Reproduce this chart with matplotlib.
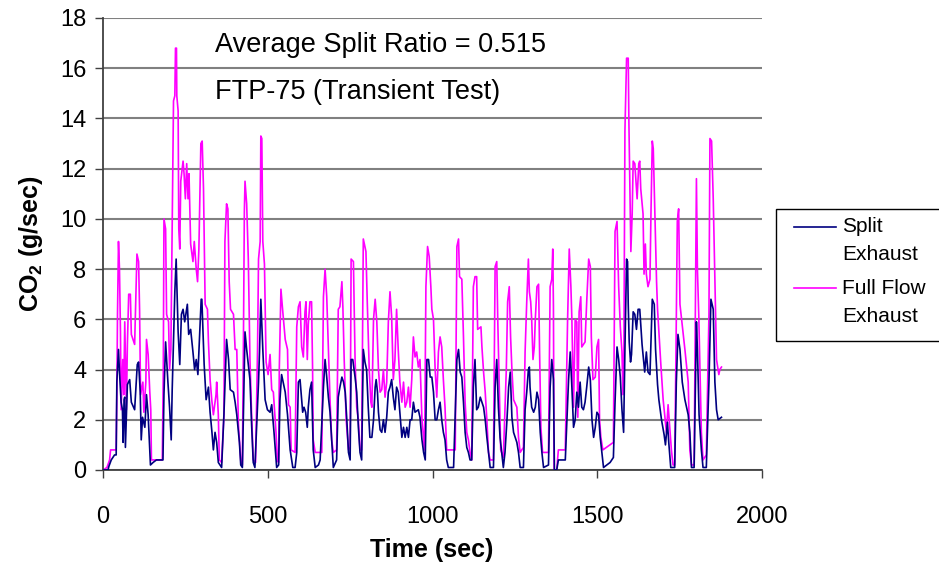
import matplotlib
matplotlib.use("Agg")
import matplotlib.pyplot as plt
from matplotlib.lines import Line2D
from matplotlib.patches import Rectangle

plt.rcParams['font.family'] = ['Liberation Sans', 'DejaVu Sans']
plt.rcParams['mathtext.fontset'] = 'custom'
plt.rcParams['mathtext.rm'] = 'Liberation Sans'
plt.rcParams['mathtext.bf'] = 'Liberation Sans:bold'

# CO2 mass rate over the FTP-75 cycle, split exhaust sampling
split_t = [0, 15, 18, 25, 35, 40, 42, 47, 50, 55, 59, 61, 64, 66, 68, 74, 81, 86, 96, 104,
           108, 113, 116, 120, 127, 132, 137, 144, 152, 162, 182, 185, 190, 197, 202, 207, 210, 218, 222, 228,
           233, 238, 243, 248, 256, 260, 266, 273, 278, 283, 288, 298, 300, 307, 313, 320, 325, 330, 335, 340,
           345, 350, 360, 367, 375, 381, 386, 396, 401, 406, 414, 418, 423, 428, 431, 436, 446, 451, 456, 461,
           472, 475, 479, 485, 492, 499, 507, 512, 519, 527, 533, 537, 542, 553, 560, 568, 576, 583, 588, 593,
           598, 603, 606, 610, 615, 620, 623, 628, 633, 638, 644, 654, 659, 669, 674, 679, 684, 689, 694, 699,
           709, 714, 719, 725, 730, 735, 740, 745, 750, 753, 758, 765, 770, 775, 780, 785, 790, 795, 800, 805,
           810, 816, 821, 826, 829, 833, 836, 841, 846, 851, 856, 861, 866, 871, 876, 881, 886, 891, 896, 901,
           907, 912, 917, 922, 927, 932, 937, 942, 947, 957, 962, 968, 973, 978, 983, 988, 993, 998, 1003, 1008,
           1013, 1018, 1023, 1028, 1033, 1038, 1043, 1048, 1064, 1074, 1079, 1084, 1089, 1094, 1099, 1104, 1109, 1114, 1119, 1124,
           1129, 1134, 1139, 1145, 1155, 1160, 1165, 1170, 1175, 1185, 1190, 1195, 1200, 1205, 1210, 1215, 1220, 1226, 1231, 1236,
           1241, 1246, 1251, 1256, 1261, 1266, 1276, 1281, 1286, 1291, 1294, 1296, 1301, 1307, 1312, 1317, 1322, 1327, 1332, 1337,
           1352, 1357, 1362, 1367, 1370, 1377, 1382, 1403, 1413, 1418, 1423, 1428, 1433, 1438, 1443, 1448, 1453, 1458, 1463, 1468,
           1474, 1479, 1484, 1489, 1494, 1499, 1504, 1509, 1514, 1519, 1539, 1549, 1554, 1560, 1565, 1570, 1575, 1580, 1584, 1589,
           1592, 1594, 1597, 1601, 1604, 1609, 1614, 1619, 1624, 1629, 1636, 1644, 1649, 1654, 1660, 1667, 1673, 1677, 1683, 1687,
           1695, 1703, 1707, 1713, 1717, 1723, 1735, 1740, 1745, 1751, 1758, 1766, 1776, 1781, 1786, 1794, 1801, 1804, 1809, 1816,
           1821, 1831, 1839, 1845, 1852, 1857, 1862, 1867, 1877]
split_co2 = [0.0, 0.0, 0.15, 0.4, 0.6, 0.6, 3.5, 4.8, 3.9, 2.7, 2.4, 1.1, 2.8, 2.9, 0.9, 3.4, 3.6, 2.7, 2.4, 4.2,
             4.3, 3.1, 1.2, 2.1, 1.7, 3.0, 2.2, 0.2, 0.3, 0.4, 0.4, 3.0, 5.1, 3.5, 2.5, 1.2, 3.2, 7.1, 8.4, 5.5,
             4.2, 6.2, 6.4, 5.9, 6.6, 5.4, 5.6, 4.7, 4.0, 4.4, 3.8, 6.8, 6.8, 4.2, 2.8, 3.3, 2.3, 1.6, 0.8, 1.5,
             1.1, 0.3, 0.1, 2.2, 5.2, 4.4, 3.2, 3.1, 2.7, 2.2, 1.1, 0.2, 0.1, 3.5, 5.5, 4.8, 3.6, 1.8, 0.3, 0.1,
             3.5, 4.7, 6.8, 4.8, 2.8, 2.4, 2.3, 2.6, 1.5, 0.1, 0.2, 2.8, 3.8, 3.1, 2.2, 0.8, 0.1, 0.1, 0.7, 3.5,
             3.6, 2.8, 2.3, 2.5, 2.3, 1.7, 2.5, 3.2, 3.5, 0.8, 0.1, 0.2, 0.4, 3.3, 4.4, 3.7, 2.9, 2.3, 1.2, 0.1,
             0.4, 2.9, 3.3, 3.7, 3.5, 3.1, 2.0, 0.7, 0.4, 4.4, 4.4, 3.7, 3.1, 1.7, 0.7, 0.4, 4.8, 4.3, 4.0, 2.5,
             1.3, 1.3, 2.0, 3.3, 3.6, 3.1, 2.3, 1.6, 1.5, 2.0, 1.5, 2.1, 3.1, 3.3, 3.6, 2.9, 2.4, 3.3, 3.1, 2.3,
             1.3, 1.7, 1.3, 1.7, 1.3, 2.0, 2.0, 2.7, 2.3, 2.4, 2.1, 1.2, 0.7, 0.4, 4.4, 4.4, 3.7, 3.7, 3.1, 2.0,
             2.0, 2.4, 2.7, 2.0, 1.5, 1.2, 0.4, 0.1, 0.1, 4.4, 4.8, 3.9, 3.7, 2.7, 1.5, 0.9, 0.7, 0.4, 0.4, 3.3,
             4.4, 2.4, 2.5, 2.9, 2.5, 2.0, 1.3, 0.7, 0.1, 0.1, 3.3, 4.4, 2.5, 1.3, 0.7, 0.1, 0.7, 2.0, 3.3, 3.9,
             2.1, 1.5, 1.3, 1.1, 0.7, 0.1, 0.1, 2.4, 3.1, 4.0, 4.1, 3.3, 2.5, 2.3, 2.5, 3.1, 2.8, 1.5, 0.7, 0.1,
             0.2, 3.3, 4.4, 3.6, 0.0, 0.0, 0.4, 0.4, 3.6, 4.7, 3.3, 1.7, 2.0, 3.1, 2.5, 3.5, 2.5, 2.4, 2.7, 3.3,
             4.1, 3.6, 2.0, 1.3, 1.7, 2.3, 2.2, 1.3, 0.7, 0.1, 0.3, 0.5, 2.7, 4.9, 4.4, 3.7, 2.4, 1.5, 4.8, 8.4,
             8.3, 6.6, 5.1, 4.3, 4.6, 6.3, 6.2, 5.6, 6.4, 6.4, 5.0, 3.9, 4.7, 3.9, 3.8, 6.8, 6.6, 4.8, 3.4, 2.8,
             2.0, 1.4, 1.0, 1.9, 1.1, 0.1, 0.1, 3.5, 5.4, 4.8, 3.5, 2.8, 2.2, 1.5, 0.1, 0.1, 5.9, 4.8, 2.2, 0.8,
             0.1, 0.1, 3.5, 6.8, 6.4, 3.5, 2.4, 2.0, 2.1]

# Same cycle measured on the full flow exhaust
full_t = [0, 12, 20, 23, 40, 42, 44, 47, 50, 53, 55, 60, 63, 66, 71, 74, 78, 83, 86, 91,
          96, 99, 103, 108, 111, 114, 121, 124, 130, 132, 137, 142, 145, 147, 180, 183, 185, 190, 193, 199,
          202, 206, 211, 214, 218, 220, 223, 224, 228, 230, 233, 236, 243, 246, 250, 254, 258, 261, 266, 273,
          277, 283, 287, 291, 297, 301, 305, 310, 317, 320, 325, 330, 335, 343, 345, 350, 353, 360, 367, 370,
          375, 379, 383, 387, 396, 401, 406, 411, 418, 423, 426, 429, 431, 436, 441, 446, 451, 456, 463, 469,
          472, 477, 479, 482, 485, 490, 495, 501, 507, 512, 517, 525, 529, 533, 535, 540, 545, 553, 560, 563,
          568, 571, 583, 588, 593, 598, 603, 608, 613, 616, 620, 623, 628, 633, 636, 638, 644, 664, 669, 674,
          679, 684, 689, 694, 699, 709, 714, 719, 725, 728, 732, 738, 745, 750, 753, 760, 765, 770, 775, 780,
          785, 790, 798, 802, 808, 813, 816, 821, 826, 831, 836, 841, 846, 851, 856, 861, 866, 871, 876, 881,
          886, 891, 896, 901, 907, 912, 917, 922, 927, 932, 937, 942, 947, 952, 957, 962, 968, 973, 976, 980,
          985, 990, 995, 998, 1003, 1008, 1013, 1018, 1023, 1028, 1033, 1038, 1043, 1069, 1074, 1079, 1082, 1089, 1094, 1099,
          1104, 1109, 1114, 1119, 1124, 1129, 1134, 1137, 1147, 1150, 1155, 1160, 1165, 1170, 1175, 1185, 1190, 1195, 1198, 1203,
          1207, 1215, 1224, 1228, 1233, 1237, 1241, 1246, 1256, 1261, 1266, 1276, 1281, 1286, 1291, 1294, 1298, 1301, 1305, 1309,
          1312, 1317, 1322, 1325, 1329, 1334, 1352, 1357, 1362, 1365, 1367, 1369, 1377, 1382, 1403, 1410, 1415, 1420, 1423, 1428,
          1433, 1438, 1441, 1445, 1450, 1453, 1463, 1468, 1474, 1479, 1482, 1487, 1494, 1499, 1504, 1507, 1511, 1517, 1549, 1554,
          1560, 1565, 1570, 1575, 1578, 1581, 1584, 1589, 1594, 1596, 1599, 1602, 1606, 1609, 1614, 1621, 1626, 1629, 1632, 1639,
          1642, 1646, 1649, 1654, 1660, 1663, 1667, 1670, 1675, 1680, 1683, 1687, 1693, 1700, 1710, 1715, 1725, 1730, 1735, 1739,
          1743, 1747, 1751, 1766, 1776, 1781, 1786, 1794, 1798, 1801, 1804, 1808, 1816, 1821, 1831, 1839, 1842, 1847, 1852, 1857,
          1862, 1869, 1872, 1877]
full_co2 = [0.0, 0.1, 0.4, 0.8, 0.8, 3.0, 6.2, 9.1, 8.0, 5.5, 2.4, 4.4, 3.0, 5.9, 2.4, 5.0, 7.0, 7.0, 5.4, 5.2,
            5.0, 6.5, 8.6, 8.3, 6.4, 3.0, 3.5, 2.3, 3.5, 5.2, 4.6, 3.1, 2.4, 0.4, 0.4, 4.0, 10.0, 9.6, 6.2, 5.9,
            4.0, 4.8, 11.0, 14.7, 14.9, 16.8, 16.8, 14.9, 14.3, 9.6, 8.8, 11.5, 12.3, 11.8, 10.8, 12.2, 10.8, 11.8, 9.0, 8.3,
            9.1, 8.0, 7.5, 8.8, 13.0, 13.1, 11.2, 6.6, 6.4, 5.1, 3.6, 2.8, 2.2, 3.0, 3.5, 2.2, 0.4, 0.3, 2.2, 9.1,
            10.6, 10.4, 7.5, 6.4, 6.2, 4.8, 4.8, 1.8, 0.4, 0.2, 4.8, 10.3, 11.5, 10.6, 8.4, 4.4, 2.2, 0.4, 0.3, 4.8,
            8.4, 9.1, 13.3, 13.2, 9.1, 8.2, 4.3, 3.8, 4.6, 3.2, 3.1, 1.5, 0.4, 0.3, 4.0, 7.2, 6.4, 5.2, 4.8, 2.6,
            2.5, 0.8, 0.7, 5.7, 6.5, 6.7, 4.9, 4.5, 6.3, 6.7, 4.4, 5.8, 6.7, 6.7, 4.1, 1.2, 0.7, 0.7, 6.9, 8.0,
            6.9, 4.9, 2.8, 1.2, 0.7, 0.8, 6.4, 6.5, 7.5, 6.5, 4.4, 2.0, 0.8, 0.9, 8.4, 8.3, 4.4, 2.5, 2.0, 0.8,
            0.8, 9.2, 8.7, 6.7, 4.0, 2.7, 2.5, 6.0, 6.8, 5.9, 4.0, 3.1, 3.2, 4.0, 2.9, 3.5, 5.9, 7.1, 6.1, 3.6,
            4.4, 6.4, 4.8, 3.5, 2.7, 3.5, 2.5, 2.7, 3.3, 2.5, 3.6, 5.3, 4.5, 4.7, 4.1, 4.4, 2.0, 1.3, 0.8, 7.3,
            8.9, 8.5, 7.3, 6.4, 6.0, 4.0, 2.9, 4.7, 5.3, 4.9, 3.6, 2.5, 0.8, 0.8, 8.9, 9.2, 7.7, 7.6, 5.3, 2.7,
            1.5, 1.2, 0.7, 0.4, 7.3, 7.7, 7.7, 5.6, 5.7, 4.9, 3.9, 3.1, 2.0, 0.7, 0.4, 0.4, 8.1, 8.3, 6.0, 3.1,
            0.8, 0.5, 4.0, 6.7, 7.3, 5.3, 4.0, 2.8, 2.5, 1.3, 0.7, 0.9, 4.7, 6.7, 8.4, 7.1, 6.7, 6.0, 4.4, 4.9,
            6.0, 7.3, 7.4, 4.7, 1.7, 0.7, 0.7, 7.3, 7.6, 8.8, 6.5, 0.0, 0.0, 0.8, 0.8, 6.0, 8.8, 7.3, 6.0, 2.5,
            6.0, 5.9, 2.1, 6.3, 6.9, 4.9, 5.1, 6.7, 8.4, 8.1, 5.3, 3.6, 3.7, 4.9, 5.2, 2.0, 1.3, 0.8, 1.1, 9.5,
            9.9, 7.3, 5.7, 4.7, 3.0, 5.0, 13.5, 16.4, 16.4, 13.9, 11.2, 8.7, 10.2, 12.3, 12.2, 10.8, 12.2, 12.3, 11.2, 10.2,
            7.8, 9.0, 7.8, 7.3, 7.6, 10.2, 13.1, 12.8, 10.2, 7.5, 6.4, 5.5, 4.2, 2.8, 1.5, 2.6, 0.8, 0.2, 0.2, 4.8,
            9.9, 10.4, 6.6, 4.8, 3.5, 0.8, 0.2, 0.2, 7.0, 11.6, 8.0, 6.2, 1.5, 0.4, 0.6, 6.2, 13.2, 13.1, 10.8, 7.5,
            4.4, 3.8, 4.0, 4.1]

x_ticks = [0, 500, 1000, 1500, 2000]
y_ticks = [0, 2, 4, 6, 8, 10, 12, 14, 16, 18]

fig = plt.figure(figsize=(9.39, 5.73), dpi=100)
ax = fig.add_axes([103 / 939, 1 - 470 / 573, 659 / 939, 452 / 573])

ax.plot(split_t, split_co2, color='#000080', lw=1.2, zorder=3)
ax.plot(full_t, full_co2, color='#ff00ff', lw=1.2, zorder=2)

ax.set_xlim(0, 2000)
ax.set_ylim(0, 18)
ax.set_xticks(x_ticks)
ax.set_yticks(y_ticks)
ax.yaxis.grid(True, color='#808080', lw=1.5)
ax.set_axisbelow(True)
for side in ['top', 'right']:
    ax.spines[side].set_visible(False)
for side in ['left', 'bottom']:
    ax.spines[side].set_color('#404040')
    ax.spines[side].set_linewidth(1.3)
ax.tick_params(direction='out', length=6, width=1, color='#404040', labelsize=17)
ax.tick_params(axis='x', pad=20)
ax.tick_params(axis='y', pad=6)

ax.set_xlabel('Time (sec)', fontsize=18, fontweight='bold')
ax.xaxis.set_label_coords(0.499, -0.150)
ax.set_ylabel(r'CO$_\mathbf{2}$ (g/sec)', fontsize=18, fontweight='bold')
ax.yaxis.set_label_coords(-0.088, 0.5)

ax.text(0.170, 0.940, 'Average Split Ratio = 0.515', transform=ax.transAxes,
        fontsize=19.5, va='center', ha='left')
ax.text(0.170, 0.836, 'FTP-75 (Transient Test)', transform=ax.transAxes,
        fontsize=19.5, va='center', ha='left')

# legend drawn by hand: handle sits on the first label line
fig.add_artist(Rectangle((776 / 939, 1 - 341 / 573), 200 / 939, 132 / 573,
                         transform=fig.transFigure, fill=False, ec='black', lw=1))
entries = [('#000080', 'Split', 'Exhaust', 227), ('#ff00ff', 'Full Flow', 'Exhaust', 288)]
for color, line1, line2, py in entries:
    fig.add_artist(Line2D([794 / 939, 836 / 939], [1 - py / 573, 1 - py / 573],
                          transform=fig.transFigure, color=color, lw=1.2))
    fig.text(842 / 939, 1 - py / 573, line1, fontsize=15, va='center', ha='left')
    fig.text(842 / 939, 1 - (py + 28) / 573, line2, fontsize=15, va='center', ha='left')

fig.savefig('out.png', dpi=100)
